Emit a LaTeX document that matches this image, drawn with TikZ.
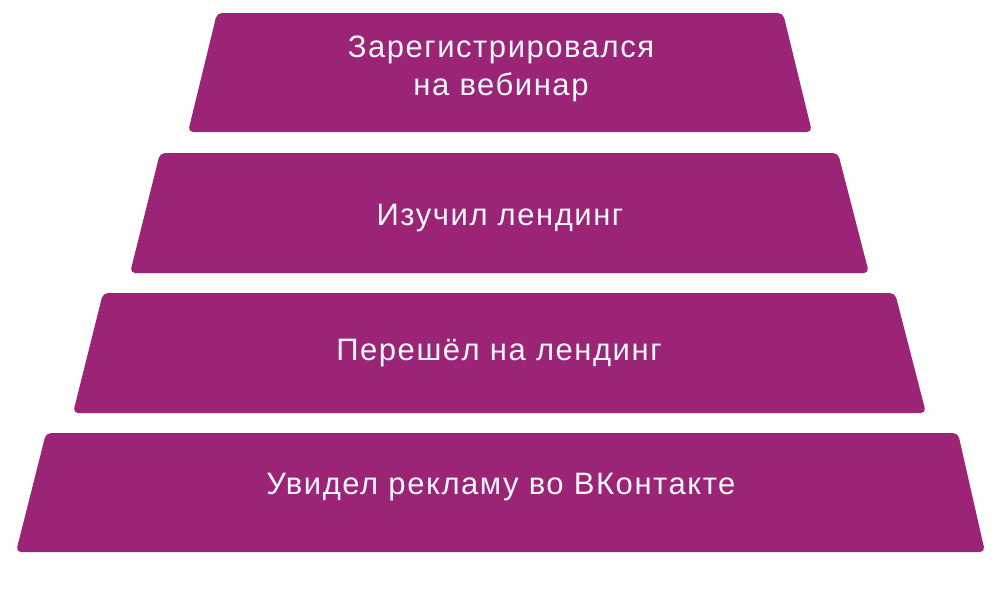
\documentclass[tikz,border=0pt]{standalone}
\usepackage{fontspec}
\setmainfont{Liberation Sans}
\newfontfamily\tierfont[LetterSpace=5]{Liberation Sans}
\definecolor{funnel}{HTML}{9B2477}
\definecolor{lbltext}{HTML}{F2F6FF}
\tikzset{
  tierbox/.style={fill=funnel, rounded corners=5pt},
  lbl/.style={text=lbltext, anchor=base, inner sep=0pt, font=\tierfont\fontsize{31}{37}\selectfont}
}
\begin{document}
\begin{tikzpicture}[x=1pt, y=-1pt]
        \useasboundingbox (0,0) rectangle (1008,605);

        % Ярус 1
        \fill[tierbox] (217,13) -- (783,13) -- (812,132) -- (188,132) -- cycle;
        \node[lbl] (t1) at (501,57) {Зарегистрировался};
        \node[lbl] (t1b) at (501,95) {на вебинар};

        % Ярус 2
        \fill[tierbox] (160,153) -- (838,153) -- (869,273) -- (130,273) -- cycle;
        \node[lbl] (t2) at (500,225) {Изучил лендинг};

        % Ярус 3
        \fill[tierbox] (103,293) -- (895,293) -- (926,413) -- (73,413) -- cycle;
        \node[lbl] (t3) at (499,360) {Перешёл на лендинг};

        % Ярус 4
        \fill[tierbox] (46,433) -- (958,433) -- (985,552) -- (16,552) -- cycle;
        \node[lbl] (t4) at (501,494) {Увидел рекламу во ВКонтакте};
    \end{tikzpicture}
\end{document}
